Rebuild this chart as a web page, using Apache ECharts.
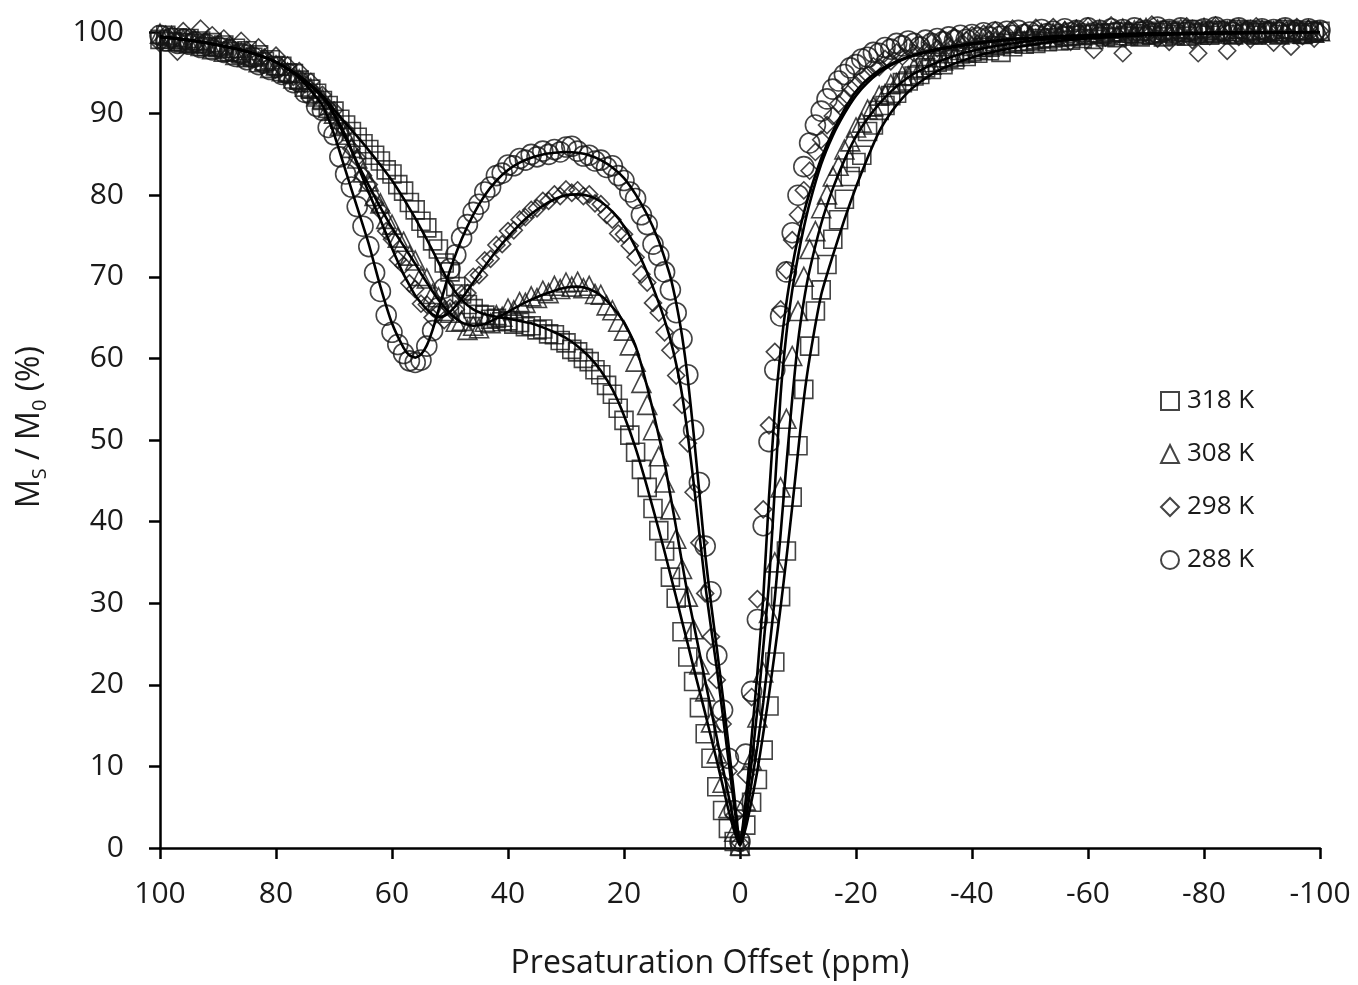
<!DOCTYPE html>
<html><head><meta charset="utf-8">
<script src="https://cdn.jsdelivr.net/npm/echarts/dist/echarts.min.js"></script>
<style>html,body{margin:0;padding:0;background:#fff}#chart{width:1358px;height:985px}</style>
</head><body><div id="chart"></div>
<script>
// Presaturation offsets (ppm) of the measured points
const offsets = [100,99,98,97,96,95,94,93,92,91,90,89,88,87,86,85,84,83,82,81,80,79,78,77,76,75,74,73,72,71,70,69,68,67,66,65,64,63,62,61,60,59,58,57,56,55,54,53,52,51,50,49,48,47,46,45,44,43,42,41,40,39,38,37,36,35,34,33,32,31,30,29,28,27,26,25,24,23,22,21,20,19,18,17,16,15,14,13,12,11,10,9,8,7,6,5,4,3,2,1,0,-1,-2,-3,-4,-5,-6,-7,-8,-9,-10,-11,-12,-13,-14,-15,-16,-17,-18,-19,-20,-21,-22,-23,-24,-25,-26,-27,-28,-29,-30,-31,-32,-33,-34,-35,-36,-37,-38,-39,-40,-41,-42,-43,-44,-45,-46,-47,-48,-49,-50,-51,-52,-53,-54,-55,-56,-57,-58,-59,-60,-61,-62,-63,-64,-65,-66,-67,-68,-69,-70,-71,-72,-73,-74,-75,-76,-77,-78,-79,-80,-81,-82,-83,-84,-85,-86,-87,-88,-89,-90,-91,-92,-93,-94,-95,-96,-97,-98,-99,-100];

// Measured Ms/M0 (%) per temperature
const data318 = [99.1,99.6,98.8,99.3,98.7,99.2,98.6,98.9,98.2,98.7,
98.1,98.4,97.6,98.0,97.3,97.7,96.9,97.2,96.4,96.6,
95.9,95.8,95.0,94.9,94.1,93.8,93.0,92.5,91.6,91.0,
90.3,89.3,88.6,87.8,87.1,86.3,85.6,84.9,84.2,83.1,
82.6,81.3,80.5,79.1,78.2,76.8,76.0,74.4,73.4,71.7,
70.6,68.8,67.9,66.6,66.1,65.4,65.3,64.8,64.9,64.5,
64.6,64.2,64.4,63.9,64.0,63.5,63.6,63.0,62.9,62.2,
61.9,61.1,60.8,60.0,59.6,58.6,58.0,56.7,55.6,53.9,
52.4,50.6,48.5,46.4,44.2,41.6,38.9,36.4,33.2,30.6,
26.5,23.4,20.4,17.2,14.0,11.0,7.5,4.6,2.4,0.8,
0.2,
2.8,5.6,8.4,12.0,17.4,22.8,30.8,36.4,43.0,49.3,
56.2,61.5,65.8,68.4,71.5,74.6,77.0,79.5,82.3,84.0,
84.9,87.8,88.6,90.4,91.0,92.2,92.5,93.8,94.0,94.6,
94.8,95.6,95.4,96.3,96.0,96.8,96.6,97.3,97.0,97.6,
97.4,98.1,97.7,98.3,97.5,98.6,98.2,98.8,98.5,98.9,
98.6,99.2,98.8,99.3,98.9,99.5,99.0,99.6,99.2,99.7,
99.1,99.8,99.4,99.9,99.3,100.0,99.5,99.8,99.4,100.1,
99.6,99.9,99.4,100.2,99.7,100.0,99.5,100.3,99.8,100.0,
99.6,100.2,99.9,100.1,99.7,100.3,99.8,100.0,99.6,100.2,
99.9,100.1,99.7,100.3,99.8,100.0,99.7,100.2,99.9,100.1];

const data308 = [99.8,99.2,99.5,98.9,99.1,98.6,99.0,98.3,98.6,97.9,
98.3,97.6,98.0,97.2,97.5,96.9,97.1,96.3,96.5,95.6,
95.9,95.2,95.0,94.3,94.2,93.3,93.1,92.1,91.8,90.7,
90.0,88.5,87.4,85.8,84.5,82.8,81.7,79.9,79.0,77.1,
76.4,74.8,74.3,72.6,72.0,70.1,69.8,67.9,67.5,65.8,
65.6,64.5,64.6,63.5,64.0,63.7,64.5,64.3,65.3,65.1,
66.1,65.9,66.9,66.8,67.6,67.4,68.3,68.0,68.9,68.5,
69.3,68.8,69.4,68.6,68.9,67.9,67.8,66.5,65.9,64.5,
63.4,61.6,59.6,57.0,54.3,51.2,48.0,44.8,41.5,37.9,
34.2,30.8,26.8,22.5,19.2,15.4,11.6,8.0,4.9,2.0,
0.3,
5.8,10.8,16.0,21.5,28.8,35.0,44.2,52.6,60.3,65.8,
70.0,73.4,75.6,78.4,80.1,82.3,83.6,85.6,86.6,88.3,
88.9,90.5,90.9,92.2,92.4,93.6,93.7,94.7,94.6,95.6,
95.4,96.3,96.0,96.9,96.5,97.4,97.0,97.8,97.5,98.3,
97.9,98.6,98.2,98.9,98.5,99.2,98.7,99.4,98.9,99.5,
99.1,99.8,99.2,99.9,99.4,100.1,99.5,100.2,99.6,100.0,
99.7,100.3,99.8,100.1,99.6,100.4,99.9,100.2,99.7,100.5,
99.8,100.3,99.9,100.1,99.6,100.4,100.0,100.2,99.7,100.5,
99.9,100.3,99.8,100.1,99.7,100.4,100.0,100.2,99.8,100.3,
99.9,100.1,99.7,100.4,100.0,100.2,99.8,100.3,99.9,100.1];

const data298 = [98.6,99.7,98.9,97.6,100.1,99.4,98.5,100.4,98.8,99.6,
97.9,99.2,98.4,97.4,98.9,97.8,96.8,98.1,96.9,96.0,
97.1,95.6,95.9,94.5,95.2,93.6,93.9,92.2,92.3,90.8,
90.4,88.6,88.0,85.7,84.6,82.4,81.3,79.0,78.1,75.6,
74.6,72.1,71.4,69.2,68.5,66.7,66.6,65.0,65.6,64.7,
66.2,66.0,67.9,68.0,70.0,70.2,72.0,72.2,73.9,74.0,
75.6,75.7,77.0,77.3,78.2,78.4,79.3,79.3,80.1,79.9,
80.7,80.3,80.6,79.9,80.1,79.0,78.9,77.6,77.0,75.3,
75.2,73.8,72.4,70.3,69.3,66.8,65.6,63.2,61.0,57.9,
54.3,49.6,43.6,37.4,31.2,25.9,20.6,15.2,9.4,4.0,
0.6,
9.0,18.5,30.5,41.5,51.8,60.8,66.0,70.8,74.5,77.6,
80.6,83.0,85.3,86.8,88.6,89.7,91.2,91.9,93.1,93.5,
94.6,94.8,95.8,95.7,96.7,96.4,97.5,97.0,98.1,97.4,
98.4,97.6,98.7,98.0,99.1,98.3,99.4,98.5,99.0,99.6,
98.6,99.8,99.1,100.2,98.9,99.7,100.4,99.2,100.0,99.4,
100.5,99.1,99.9,100.6,99.5,100.2,98.8,100.4,99.7,100.7,
97.8,100.1,99.3,100.8,99.6,97.4,100.3,99.5,100.6,99.9,
100.9,99.2,100.4,98.8,100.1,99.6,100.7,99.0,97.4,100.3,
99.5,100.8,99.8,97.7,100.5,99.4,100.2,99.1,100.7,99.6,
100.3,98.7,100.5,99.8,98.2,100.6,99.5,100.4,99.2,100.1];

const data288 = [99.6,98.9,99.3,98.6,99.1,98.5,98.8,98.1,98.5,97.8,
98.2,97.5,97.8,97.0,97.4,96.6,96.9,96.0,96.2,95.4,
95.7,94.8,94.9,93.8,93.9,92.6,92.4,90.9,90.4,88.3,
87.4,84.7,82.6,81.0,78.6,76.2,73.7,70.5,68.2,65.3,
63.2,61.7,60.6,59.7,59.5,59.8,61.5,63.4,66.2,68.6,
71.0,72.7,74.8,76.4,77.9,78.9,80.4,81.0,82.4,82.7,
83.7,83.6,84.5,84.3,85.0,84.7,85.4,85.0,85.6,85.3,
85.9,86.0,85.4,84.8,84.9,84.2,84.3,83.4,83.6,82.4,
81.8,80.4,79.6,77.6,76.4,74.0,72.6,70.6,68.4,65.6,
62.4,58.0,51.2,44.8,37.0,31.4,23.6,16.9,11.0,4.6,
0.8,
11.5,19.2,28.0,39.5,49.8,58.6,65.2,70.6,75.4,80.0,
83.5,86.4,88.6,90.3,91.8,93.0,94.0,94.8,95.6,96.0,
96.7,96.9,97.5,97.4,98.1,97.9,98.6,98.3,98.9,98.6,
98.2,99.0,98.6,99.2,98.8,99.4,99.0,99.6,99.1,99.7,
99.3,99.9,99.4,100.0,99.5,100.1,99.6,100.2,99.7,100.0,
99.6,100.3,99.8,100.1,99.7,100.4,99.9,100.2,99.8,100.5,
99.9,100.2,99.7,100.4,100.0,100.3,99.8,100.5,100.0,100.2,
99.8,100.6,100.1,100.3,99.9,100.5,100.0,100.2,99.8,100.4,
100.0,100.6,100.1,100.3,99.9,100.5,100.1,100.2,99.8,100.4,
100.0,100.3,99.9,100.5,100.1,100.2,99.8,100.4,100.0,100.2];

// Fitted curves (solid lines)
const fitOffsets = [100,95,90,85,80,76,72,70,68,66,64,62,60,58,57,56,55,54,53,52,51,50,48,46,44,42,40,38,36,34,32,30,28,26,24,22,20,18,16,14,13,12,11,10,9,8,7,6,5,4,3,2,1,0,-1,-2,-3,-4,-5,-6,-7,-8,-9,-10,-11,-12,-14,-16,-18,-20,-22,-24,-26,-28,-30,-34,-38,-42,-46,-50,-55,-60,-70,-80,-90,-100];
const fit318 = [99.4,99.0,98.4,97.6,96.3,94.6,92.2,90.5,88.8,87.2,85.5,83.7,81.8,79.6,78.4,77.2,75.9,74.6,73.2,71.8,70.4,69.1,67.2,66.0,65.4,65.1,64.9,64.6,64.3,63.8,63.2,62.5,61.5,60.2,58.5,56.2,53.0,49.0,44.2,39.0,36.3,33.5,30.7,27.8,25.0,22.1,19.3,16.5,13.6,10.7,7.7,4.7,2.1,0.3,2.5,5.8,9.5,14.0,18.8,24.0,29.5,35.5,41.8,48.5,55.0,60.0,67.8,72.6,77.0,81.0,84.6,87.8,90.1,91.9,93.3,95.2,96.4,97.3,97.9,98.4,98.9,99.2,99.6,99.8,99.9,100];
const fit308 = [99.4,99.0,98.4,97.6,96.3,94.6,92.2,89.8,87.0,84.0,81.2,78.5,76.0,73.8,72.7,71.6,70.4,69.3,68.2,67.2,66.3,65.5,64.4,64.0,64.2,64.9,65.7,66.5,67.2,67.8,68.3,68.7,68.8,68.5,67.7,66.3,64.4,61.5,56.5,50.5,47.2,43.2,39.2,35.0,31.0,27.5,24.0,20.5,17.0,13.5,10.0,6.5,3.0,0.3,3.5,8.0,12.5,17.8,24.0,30.6,38.5,47.0,55.0,62.0,67.0,70.8,76.5,80.8,84.3,87.2,89.4,91.2,92.7,93.9,94.9,96.3,97.3,98.0,98.5,98.9,99.2,99.4,99.7,99.8,99.9,100];
const fit298 = [99.4,99.0,98.4,97.6,96.3,94.6,92.0,90.0,87.3,83.8,80.3,77.0,73.5,70.3,69.0,67.7,66.8,66.0,65.4,65.1,65.2,65.7,67.3,69.3,71.3,73.2,74.9,76.4,77.7,78.7,79.5,80.0,80.1,79.9,79.2,78.0,76.2,73.6,70.5,66.8,64.7,62.3,59.3,55.6,50.6,44.8,38.5,32.3,27.0,22.0,16.5,10.8,5.2,0.4,5.0,10.5,17.0,24.5,32.5,44.0,55.5,63.0,68.3,72.5,76.0,79.0,83.8,87.3,90.0,92.2,93.8,95.0,95.9,96.6,97.1,97.8,98.3,98.7,99.0,99.2,99.4,99.6,99.8,99.9,100,100];
const fit288 = [99.4,99.0,98.4,97.6,96.3,94.4,91.0,87.5,83.0,78.5,74.0,68.8,64.3,61.3,60.4,60.1,60.5,61.6,63.5,65.9,68.4,70.8,74.6,77.6,80.0,81.8,83.1,84.0,84.6,85.0,85.2,85.3,85.2,84.9,84.3,83.4,82.1,80.1,77.6,74.4,72.3,70.0,66.8,62.8,57.5,50.8,43.5,36.0,30.0,24.5,18.8,12.8,6.5,0.5,6.0,13.5,21.5,30.6,43.0,53.5,61.0,66.8,71.2,74.8,77.8,80.3,84.5,87.8,90.5,92.7,94.2,95.3,96.1,96.7,97.2,97.9,98.4,98.8,99.1,99.3,99.5,99.6,99.8,99.9,100,100];

const seriesNames = ['318 K', '308 K', '298 K', '288 K'];
const symbols = ['rect', 'triangle', 'diamond', 'circle'];
const symbolSizes = [18, 19, 17, 20];

const FONT = 'Open Sans';
const TXT = '#1a1a1a';
function pairs(xs, ys) { return xs.map((x, i) => [x, ys[i]]); }

const measured = [data318, data308, data298, data288];
const fits = [fit318, fit308, fit298, fit288];

const series = [];
measured.forEach((d, i) => {
  series.push({
    name: seriesNames[i], type: 'scatter', symbol: symbols[i], symbolSize: symbolSizes[i],
    data: pairs(offsets, d), clip: false, z: 2, silent: true,
    itemStyle: { color: 'rgba(255,255,255,0)', borderColor: '#151515', borderWidth: 1.6 },
    emphasis: { disabled: true }
  });
});
fits.forEach((f, i) => {
  series.push({
    name: 'fit ' + seriesNames[i], type: 'line', data: pairs(fitOffsets, f),
    showSymbol: false, symbol: 'none', smooth: 0.2, z: 3, silent: true,
    lineStyle: { color: '#000', width: 2.6 }, emphasis: { disabled: true }
  });
});

const chart = echarts.init(document.getElementById('chart'), null, { renderer: 'canvas' });
chart.setOption({
  animation: false,
  backgroundColor: '#fff',
  grid: { left: 160, right: 38, top: 32, bottom: 135, containLabel: false },
  legend: {
    data: seriesNames, orient: 'vertical', left: 1155, top: 383,
    itemWidth: 18, itemHeight: 18, itemGap: 27, selectedMode: false,
    textStyle: { fontFamily: FONT, fontSize: 26, color: TXT, padding: [0, 0, 0, 3] }
  },
  xAxis: {
    type: 'value', min: -100, max: 100, interval: 20, inverse: true,
    axisLine: { onZero: false, lineStyle: { color: '#000', width: 2.5 } },
    axisTick: { length: 11, lineStyle: { color: '#000', width: 2.5 } },
    splitLine: { show: false },
    axisLabel: { fontFamily: FONT, fontSize: 30, color: TXT, margin: 31 },
    name: 'Presaturation Offset (ppm)', nameLocation: 'middle', nameGap: 100,
    nameTextStyle: { fontFamily: FONT, fontSize: 32, color: TXT, padding: [0, 60, 0, 0] }
  },
  yAxis: {
    type: 'value', min: 0, max: 100, interval: 10,
    axisLine: { onZero: false, lineStyle: { color: '#000', width: 2.5 } },
    axisTick: { length: 11, lineStyle: { color: '#000', width: 2.5 } },
    splitLine: { show: false },
    axisLabel: { fontFamily: FONT, fontSize: 30, color: TXT, margin: 36 },
    name: '{a|M}{b|S}{a| / M}{b|0}{a| (%)}', nameLocation: 'middle', nameGap: 110, nameRotate: 90,
    nameTextStyle: {
      padding: [0, 0, 0, 26],
      rich: {
        a: { fontFamily: FONT, fontSize: 32, color: TXT, lineHeight: 40 },
        b: { fontFamily: FONT, fontSize: 20, color: TXT, lineHeight: 40, verticalAlign: 'bottom' }
      }
    }
  },
  series: series
});
</script>
</body></html>
